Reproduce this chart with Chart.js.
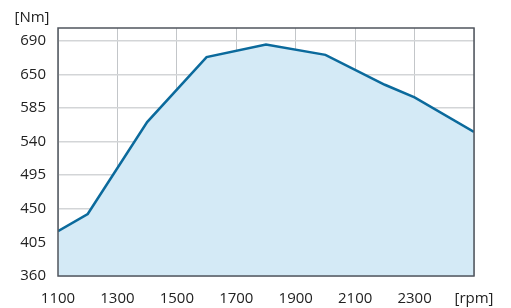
<!DOCTYPE html>
<html>
<head>
<meta charset="utf-8">
<script src="https://cdn.jsdelivr.net/npm/chart.js@4/dist/chart.umd.min.js"></script>
<style>
  body { margin: 0; background: #fff; }
  #wrap { width: 511px; height: 308px; position: relative; }
</style>
</head>
<body>
<div id="wrap"><canvas id="torque"></canvas></div>
<script>
// engine speed (rpm) and torque
var rpm = [1100, 1200, 1400, 1600, 1800, 2000, 2200, 2300, 2500];
var torque = [420, 443, 566, 653, 670, 656, 616, 599, 553];

// y gridlines sit at even steps, the printed labels are not
var yTickValues = [360, 405, 450, 495, 540, 585, 630, 675];
var yTickLabels = ['360', '405', '450', '495', '540', '585', '650', '690'];
var xTickValues = [1100, 1300, 1500, 1700, 1900, 2100, 2300, 2500];
var xTickLabels = ['1100', '1300', '1500', '1700', '1900', '2100', '2300', '[rpm]'];

var points = [];
for (var i = 0; i < rpm.length; i++) {
	points.push({x: rpm[i], y: torque[i]});
}

var tickFont = {family: "'Open Sans', 'Noto Sans', sans-serif", size: 15};

// frame around the plot area + the unit label
var framePlugin = {
	id: 'frame',
	afterDatasetsDraw: function(chart) {
		var ctx = chart.ctx, a = chart.chartArea;
		ctx.save();
		ctx.strokeStyle = '#50565e';
		ctx.lineWidth = 1.5;
		ctx.strokeRect(a.left, a.top, a.right - a.left, a.bottom - a.top);
		ctx.restore();
	},
	afterDraw: function(chart) {
		var ctx = chart.ctx;
		ctx.save();
		ctx.fillStyle = '#222';
		ctx.font = "15px 'Open Sans', 'Noto Sans', sans-serif";
		ctx.textAlign = 'center';
		ctx.textBaseline = 'middle';
		ctx.fillText('[Nm]', 32, 18);
		ctx.restore();
	}
};

new Chart(document.getElementById('torque'), {
	type: 'line',
	data: {
		datasets: [{
			data: points,
			borderColor: '#0b6a9c',
			backgroundColor: '#d4eaf6',
			borderWidth: 2.5,
			fill: 'start',
			tension: 0,
			pointRadius: 0
		}]
	},
	options: {
		responsive: true,
		maintainAspectRatio: false,
		animation: false,
		layout: {padding: {top: 28, right: 37, bottom: 0, left: 0}},
		plugins: {legend: {display: false}, tooltip: {enabled: false}},
		scales: {
			x: {
				type: 'linear',
				min: 1100,
				max: 2500,
				afterBuildTicks: function(scale) {
					scale.ticks = xTickValues.map(function(v) { return {value: v}; });
				},
				afterFit: function(scale) { scale.height = 32; },
				grid: {color: '#c3c6c9', lineWidth: 1, drawTicks: false},
				border: {display: false},
				ticks: {
					padding: 14,
					color: '#222',
					font: tickFont,
					maxRotation: 0,
					autoSkip: false,
					callback: function(value) {
						return xTickLabels[xTickValues.indexOf(value)];
					}
				}
			},
			y: {
				min: 360,
				max: 692,
				afterBuildTicks: function(scale) {
					scale.ticks = yTickValues.map(function(v) { return {value: v}; });
				},
				afterFit: function(scale) { scale.width = 58; },
				grid: {color: '#d3d5d7', lineWidth: 1.5, drawTicks: false},
				border: {display: false},
				ticks: {
					padding: 12,
					color: '#222',
					font: tickFont,
					autoSkip: false,
					callback: function(value) {
						return yTickLabels[yTickValues.indexOf(value)];
					}
				}
			}
		}
	},
	plugins: [framePlugin]
});
</script>
</body>
</html>
